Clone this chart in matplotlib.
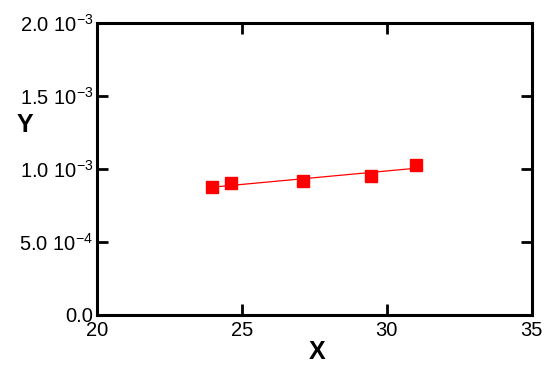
import numpy as np
import matplotlib
matplotlib.use("Agg")
import matplotlib.pyplot as plt

plt.rcParams['font.family'] = ['Liberation Sans', 'DejaVu Sans']
plt.rcParams['mathtext.fontset'] = 'custom'
plt.rcParams['mathtext.rm'] = 'Liberation Sans'

x_vals = [23.97, 24.62, 27.1, 29.45, 31.0]
y_vals = [0.874e-3, 0.903e-3, 0.915e-3, 0.951e-3, 1.029e-3]
x_ticks = [20, 25, 30, 35]
y_ticks = [0.0, 0.5e-3, 1.0e-3, 1.5e-3, 2.0e-3]
y_tick_labels = ['0.0', r'5.0 10$^{-4}$', r'1.0 10$^{-3}$', r'1.5 10$^{-3}$', r'2.0 10$^{-3}$']

fig = plt.figure(figsize=(5.5, 3.71), dpi=100)
ax = fig.add_axes([96.7/550, 1 - 315/371, (531.7 - 96.7)/550, (315 - 22.7)/371])

coef = np.polyfit(x_vals, y_vals, 1)
xf = np.array([min(x_vals), max(x_vals)])
ax.plot(xf, np.polyval(coef, xf), color='red', lw=0.9, zorder=2)
ax.plot(x_vals, y_vals, 's', color='red', markersize=8, zorder=3, clip_on=False)

ax.set_xlim(20, 35)
ax.set_ylim(0, 2.0e-3)
ax.set_xticks(x_ticks)
ax.set_xticklabels([str(t) for t in x_ticks])
ax.set_yticks(y_ticks)
ax.set_yticklabels(y_tick_labels)

for s in ax.spines.values():
    s.set_linewidth(2.2)
ax.tick_params(direction='in', length=8, width=2.0, labelsize=14.5,
               top=True, right=True)
ax.tick_params(axis='x', pad=4)
ax.tick_params(axis='y', pad=2.5)

ax.set_xlabel('X', fontsize=18, fontweight='bold')
ax.xaxis.label.set_va('center')
ax.xaxis.set_label_coords((317.5 - 96.7) / 435, (315 - 352) / 292.3)
ax.set_ylabel('Y', fontsize=18, fontweight='bold', rotation=0)
ax.yaxis.label.set_ha('center')
ax.yaxis.label.set_va('center')
ax.yaxis.set_label_coords((25 - 96.7) / 435, (315 - 125) / 292.3)

fig.savefig('out.png', dpi=100)
